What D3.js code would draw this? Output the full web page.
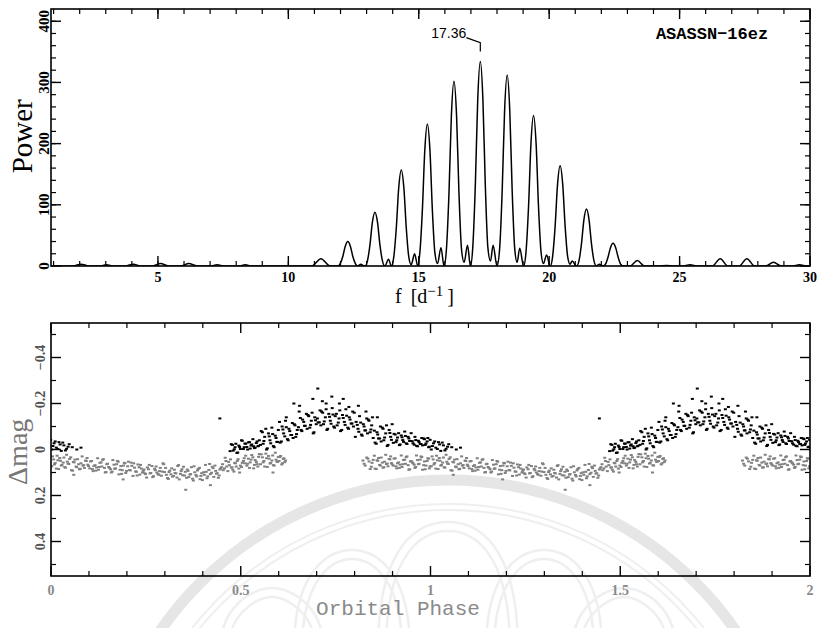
<!DOCTYPE html>
<html>
<head>
<meta charset="utf-8">
<script src="https://cdn.jsdelivr.net/npm/d3@7"></script>
<style>
  html, body { margin: 0; padding: 0; background: #fff; }
  svg { display: block; }
</style>
</head>
<body>
<svg id="chart" width="823" height="628"></svg>
<script>
// ---------------- DATA ----------------
// Periodogram (power spectrum) of ASASSN-16ez
const freq = [
  0.9, 1.75, 2.05, 2.35, 2.75, 3.03, 3.3, 3.75, 4.06, 4.35, 4.8, 5.1, 5.4, 5.9, 6.18, 6.5,
  7.0, 7.27, 7.55, 8.1, 8.35, 8.6, 10.9, 11.25, 11.6,
  11.9, 11.99, 12.09, 12.18, 12.28, 12.38, 12.47, 12.57, 12.66, 12.78, 12.9,
  12.94, 13.03, 13.13, 13.22, 13.32, 13.42, 13.51, 13.61, 13.70, 13.84, 13.95,
  14.04, 14.14, 14.23, 14.33, 14.43, 14.52, 14.62, 14.71, 14.84, 14.96,
  15.04, 15.14, 15.23, 15.33, 15.43, 15.52, 15.62, 15.72, 15.85, 15.97,
  16.06, 16.16, 16.25, 16.35, 16.45, 16.54, 16.64, 16.74, 16.87, 16.98,
  17.07, 17.17, 17.26, 17.36, 17.46, 17.55, 17.65, 17.75, 17.85, 18.0,
  18.10, 18.20, 18.29, 18.39, 18.49, 18.58, 18.68, 18.77, 18.87, 19.02,
  19.11, 19.21, 19.30, 19.40, 19.50, 19.59, 19.69, 19.78, 19.90, 20.04,
  20.13, 20.23, 20.32, 20.42, 20.52, 20.61, 20.71, 20.80, 20.88, 21.05,
  21.14, 21.24, 21.33, 21.43, 21.53, 21.62, 21.72, 21.81, 21.92, 22.07,
  22.16, 22.26, 22.35, 22.45, 22.55, 22.64, 22.74, 22.83,
  23.1, 23.38, 23.65, 24.2, 24.5, 24.8, 25.1, 25.4, 25.7, 26.25, 26.56, 26.85,
  27.28, 27.58, 27.88, 28.3, 28.6, 28.9, 29.3, 29.6, 29.9, 30.0
];
const power = [
  0, 0, 3, 0, 0, 2, 0, 0, 3, 0, 0, 4, 0, 0, 4, 0,
  0, 2, 0, 0, 2, 0, 0, 12, 0,
  0, 4, 16, 32, 40, 32, 16, 4, 0, 3, 0,
  0, 8, 35, 71, 88, 71, 35, 8, 0, 11, 0,
  14, 63, 127, 157, 127, 63, 14, 2, 20, 0,
  21, 93, 188, 232, 188, 93, 21, 4, 30, 0,
  27, 121, 245, 302, 245, 121, 27, 6, 34, 0,
  30, 134, 271, 334, 271, 134, 30, 8, 34, 0,
  28, 125, 253, 312, 253, 125, 28, 6, 29, 0,
  22, 98, 199, 246, 199, 98, 22, 4, 18, 0,
  15, 66, 133, 164, 133, 66, 15, 3, 8, 0,
  8, 37, 75, 93, 75, 37, 8, 0, 3, 0,
  3, 15, 30, 37, 30, 15, 3, 0,
  0, 9, 0, 0, 1, 0, 0, 2, 0, 0, 12, 0,
  0, 12, 0, 0, 6, 0, 0, 2, 0, 0
];
const peakFreq = 17.36;
const peakPower = 334;
const peakLabel = "17.36";
const starName = "ASASSN\u221216ez";

const topXTicks = [5, 10, 15, 20, 25, 30];
const topYTicks = [0, 100, 200, 300, 400];
const botXTicks = [0, 0.5, 1, 1.5, 2];
const botXTickLabels = ["0", "0.5", "1", "1.5", "2"];
const botYTicks = [-0.4, -0.2, 0, 0.2, 0.4];
const botYTickLabels = ["\u22120.4", "\u22120.2", "0", "0.2", "0.4"];

// Folded light curve, phase in [0,1) (shown over two cycles). Gray data set.
const grayPhase = [
  0.002,0.007,0.011,0.016,0.020,0.025,0.029,0.034,0.038,0.043,0.047,
  0.052,0.057,0.061,0.066,0.070,0.075,0.079,0.084,0.088,0.093,0.097,
  0.102,0.107,0.111,0.116,0.120,0.125,0.129,0.134,0.138,0.143,0.147,
  0.152,0.157,0.161,0.166,0.170,0.175,0.179,0.184,0.188,0.193,0.197,
  0.202,0.207,0.211,0.216,0.220,0.225,0.229,0.234,0.238,0.243,0.247,
  0.252,0.257,0.261,0.266,0.270,0.275,0.279,0.284,0.288,0.293,0.297,
  0.302,0.307,0.311,0.316,0.320,0.325,0.329,0.334,0.338,0.343,0.347,
  0.352,0.357,0.361,0.366,0.370,0.375,0.379,0.384,0.388,0.393,0.397,
  0.402,0.407,0.411,0.416,0.420,0.425,0.429,0.434,0.438,0.443,0.447,
  0.452,0.457,0.461,0.466,0.470,0.475,0.479,0.484,0.488,0.493,0.497,
  0.502,0.507,0.511,0.516,0.520,0.525,0.529,0.534,0.538,0.543,0.547,
  0.552,0.557,0.561,0.566,0.570,0.575,0.579,0.584,0.588,0.593,0.597,
  0.603,0.608,0.612,0.616,0.585,
  0.355,0.420,0.190,0.060,
  0.822,0.828,0.835,0.841,0.846,
  0.852,0.857,0.861,0.866,0.870,0.875,0.879,0.884,0.888,0.893,0.897,
  0.902,0.907,0.911,0.916,0.920,0.925,0.929,0.934,0.938,0.943,0.947,
  0.952,0.957,0.961,0.966,0.970,0.975,0.979,0.984,0.988,0.993,0.997,
  // second night
  0.004,0.009,0.014,0.018,0.023,0.027,0.032,0.036,0.041,0.045,0.049,
  0.054,0.059,0.063,0.068,0.073,0.077,0.082,0.086,0.091,0.095,0.099,
  0.104,0.109,0.113,0.118,0.123,0.127,0.132,0.136,0.141,0.145,0.149,
  0.154,0.159,0.163,0.168,0.173,0.177,0.182,0.186,0.191,0.195,0.199,
  0.204,0.209,0.213,0.218,0.223,0.227,0.232,0.236,0.241,0.245,0.249,
  0.254,0.259,0.263,0.268,0.273,0.277,0.282,0.286,0.291,0.295,0.299,
  0.304,0.309,0.313,0.318,0.323,0.327,0.332,0.336,0.341,0.345,0.349,
  0.354,0.359,0.363,0.368,0.373,0.377,0.382,0.386,0.391,0.395,0.399,
  0.404,0.409,0.413,0.418,0.423,0.427,0.432,0.436,0.441,0.445,0.449,
  0.454,0.459,0.463,0.468,0.473,0.477,0.482,0.486,0.491,0.495,0.499,
  0.504,0.509,0.513,0.518,0.523,0.527,0.532,0.536,0.541,0.545,0.549,
  0.554,0.559,0.563,0.568,0.573,0.577,0.582,0.586,0.591,0.595,0.599,
  0.601,0.605,0.610,0.614,0.618,
  0.825,0.832,0.838,0.844,0.849,
  0.854,0.859,0.863,0.868,0.873,0.877,0.882,0.886,0.891,0.895,0.899,
  0.904,0.909,0.913,0.918,0.923,0.927,0.932,0.936,0.941,0.945,0.949,
  0.954,0.959,0.963,0.968,0.973,0.977,0.982,0.986,0.991,0.995,0.999
];
const grayMag = [
  0.073,0.043,0.059,0.027,0.085,0.049,0.067,0.035,0.079,0.053,0.063,
  0.034,0.092,0.056,0.074,0.042,0.086,0.060,0.070,0.080,0.050,0.066,
  0.082,0.050,0.094,0.068,0.078,0.088,0.058,0.074,0.042,0.100,0.064,
  0.076,0.086,0.096,0.066,0.082,0.050,0.108,0.072,0.090,0.058,0.102,
  0.073,0.089,0.057,0.115,0.079,0.097,0.065,0.109,0.083,0.093,0.103,
  0.122,0.086,0.104,0.072,0.116,0.090,0.100,0.110,0.080,0.096,0.064,
  0.080,0.124,0.098,0.108,0.118,0.088,0.104,0.072,0.130,0.094,0.112,
  0.113,0.123,0.093,0.109,0.077,0.135,0.099,0.117,0.085,0.129,0.103,
  0.099,0.067,0.125,0.089,0.107,0.075,0.119,0.093,0.103,0.113,0.083,
  0.064,0.082,0.050,0.094,0.068,0.078,0.088,0.058,0.074,0.042,0.100,
  0.076,0.050,0.060,0.070,0.040,0.056,0.024,0.082,0.046,0.064,0.032,
  0.064,0.034,0.050,0.018,0.076,0.040,0.058,0.026,0.070,0.044,0.054,
  0.033,0.065,0.041,0.055,0.100,
  0.175,0.155,0.130,0.110,
  0.048,0.070,0.040,0.085,0.058,
  0.027,0.085,0.049,0.067,0.035,0.079,0.053,0.063,0.073,0.043,0.059,
  0.070,0.038,0.082,0.056,0.066,0.076,0.046,0.062,0.030,0.088,0.052,
  0.056,0.066,0.076,0.046,0.062,0.030,0.088,0.052,0.070,0.038,0.082,
  // second night
  0.030,0.065,0.083,0.047,0.037,0.070,0.057,0.077,0.023,0.061,0.041,
  0.090,0.054,0.044,0.077,0.064,0.084,0.030,0.068,0.048,0.037,0.072,
  0.052,0.085,0.072,0.092,0.038,0.076,0.056,0.045,0.080,0.098,0.062,
  0.080,0.100,0.046,0.084,0.064,0.053,0.088,0.106,0.070,0.060,0.093,
  0.053,0.091,0.071,0.060,0.095,0.113,0.077,0.067,0.100,0.087,0.107,
  0.078,0.067,0.102,0.120,0.084,0.074,0.107,0.094,0.114,0.060,0.098,
  0.110,0.128,0.092,0.082,0.115,0.102,0.122,0.068,0.106,0.086,0.075,
  0.097,0.087,0.120,0.107,0.127,0.073,0.111,0.091,0.080,0.115,0.133,
  0.110,0.097,0.117,0.063,0.101,0.081,0.070,0.105,0.123,0.087,0.077,
  0.090,0.036,0.074,0.054,0.043,0.078,0.096,0.060,0.050,0.083,0.070,
  0.058,0.038,0.027,0.062,0.080,0.044,0.034,0.067,0.054,0.074,0.020,
  0.021,0.056,0.074,0.038,0.028,0.061,0.048,0.068,0.014,0.052,0.032,
  0.050,0.028,0.060,0.038,0.048,
  0.062,0.035,0.052,0.075,0.045,
  0.083,0.047,0.037,0.070,0.057,0.077,0.023,0.061,0.041,0.030,0.065,
  0.040,0.073,0.060,0.080,0.026,0.064,0.044,0.033,0.068,0.086,0.050,
  0.060,0.080,0.026,0.064,0.044,0.033,0.068,0.086,0.050,0.040,0.073
];

// Black data set (covers the hump)
const blackPhase = [
  0.472,0.478,0.483,0.487,0.492,0.497,
  0.502,0.507,0.511,0.516,0.520,0.525,0.529,0.534,0.538,0.543,0.547,
  0.552,0.557,0.561,0.566,0.570,0.575,0.579,0.584,0.588,0.593,0.597,
  0.602,0.607,0.611,0.616,0.620,0.625,0.629,0.634,0.638,0.643,0.647,
  0.652,0.657,0.661,0.666,0.670,0.675,0.679,0.684,0.688,0.693,0.697,
  0.702,0.707,0.711,0.716,0.720,0.725,0.729,0.734,0.738,0.743,0.747,
  0.752,0.757,0.761,0.766,0.770,0.775,0.779,0.784,0.788,0.793,0.797,
  0.802,0.807,0.811,0.816,0.820,0.825,0.829,0.834,0.838,0.843,0.847,
  0.852,0.857,0.861,0.866,0.870,0.875,0.879,0.884,0.888,0.893,0.897,
  0.902,0.907,0.911,0.916,0.920,0.925,0.929,0.934,0.938,0.943,0.947,
  0.952,0.957,0.961,0.966,0.970,0.975,0.979,0.984,0.988,0.993,0.997,
  1.002,1.008,1.014,1.021,1.027,1.034,1.041,1.048,
  1.056,1.068,1.079,
  0.703,0.640,0.690,0.740,0.770,0.810,0.860,0.445,
  0.655,0.715,0.725,0.760,0.785,0.830,0.620,
  // second night
  0.475,0.480,0.485,0.490,0.495,0.499,
  0.504,0.509,0.513,0.518,0.523,0.527,0.532,0.536,0.541,0.545,0.549,
  0.554,0.559,0.563,0.568,0.573,0.577,0.582,0.586,0.591,0.595,0.599,
  0.604,0.609,0.613,0.618,0.623,0.627,0.632,0.636,0.641,0.645,0.649,
  0.654,0.659,0.663,0.668,0.673,0.677,0.682,0.686,0.691,0.695,0.699,
  0.704,0.709,0.713,0.718,0.723,0.727,0.732,0.736,0.741,0.745,0.749,
  0.754,0.759,0.763,0.768,0.773,0.777,0.782,0.786,0.791,0.795,0.799,
  0.804,0.809,0.813,0.818,0.823,0.827,0.832,0.836,0.841,0.845,0.849,
  0.854,0.859,0.863,0.868,0.873,0.877,0.882,0.886,0.891,0.895,0.899,
  0.904,0.909,0.913,0.918,0.923,0.927,0.932,0.936,0.941,0.945,0.949,
  0.954,0.959,0.963,0.968,0.973,0.977,0.982,0.986,0.991,0.995,0.999,
  1.005,1.011,1.018,1.024,1.031,1.038,1.045
];
const blackMag = [
  0.007,-0.020,-0.001,-0.025,0.013,-0.011,
  -0.040,-0.002,-0.026,-0.011,-0.031,-0.004,-0.022,-0.014,-0.008,-0.035,-0.016,
  -0.020,-0.075,-0.037,-0.090,-0.005,-0.057,-0.027,-0.067,-0.010,-0.050,-0.033,
  -0.120,-0.035,-0.087,-0.057,-0.097,-0.040,-0.080,-0.063,-0.050,-0.105,-0.067,
  -0.097,-0.137,-0.080,-0.120,-0.103,-0.090,-0.145,-0.107,-0.160,-0.075,-0.127,
  -0.135,-0.118,-0.105,-0.160,-0.122,-0.175,-0.090,-0.142,-0.112,-0.152,-0.095,
  -0.155,-0.117,-0.170,-0.085,-0.137,-0.107,-0.147,-0.090,-0.130,-0.113,-0.100,
  -0.055,-0.107,-0.077,-0.117,-0.060,-0.100,-0.083,-0.070,-0.125,-0.087,-0.140,
  -0.082,-0.025,-0.065,-0.048,-0.035,-0.090,-0.052,-0.105,-0.020,-0.072,-0.042,
  -0.029,-0.065,-0.040,-0.071,-0.022,-0.053,-0.033,-0.059,-0.024,-0.048,-0.037,
  -0.036,-0.021,-0.041,-0.014,-0.032,-0.024,-0.018,-0.045,-0.026,-0.050,-0.012,
  0.000,-0.027,-0.008,-0.032,0.006,-0.018,-0.003,-0.023,
  -0.010,0.000,-0.008,
  -0.265,-0.200,-0.220,-0.230,-0.220,-0.190,-0.140,-0.135,
  -0.190,-0.210,-0.200,-0.200,-0.185,-0.165,-0.140,
  // second night
  -0.023,0.005,-0.010,0.015,-0.017,-0.002,
  -0.038,-0.010,-0.025,0.000,-0.032,-0.017,-0.045,-0.006,-0.028,-0.014,-0.040,
  -0.080,-0.025,-0.055,0.000,-0.070,-0.040,-0.095,-0.015,-0.060,-0.033,-0.085,
  -0.030,-0.100,-0.070,-0.125,-0.045,-0.090,-0.063,-0.115,-0.110,-0.055,-0.085,
  -0.165,-0.085,-0.130,-0.103,-0.155,-0.150,-0.095,-0.125,-0.070,-0.140,-0.110,
  -0.118,-0.170,-0.165,-0.110,-0.140,-0.085,-0.155,-0.125,-0.180,-0.100,-0.145,
  -0.105,-0.135,-0.080,-0.150,-0.120,-0.175,-0.095,-0.140,-0.113,-0.165,-0.160,
  -0.120,-0.090,-0.145,-0.065,-0.110,-0.083,-0.135,-0.130,-0.075,-0.105,-0.050,
  -0.030,-0.075,-0.048,-0.100,-0.095,-0.040,-0.070,-0.015,-0.085,-0.055,-0.110,
  -0.068,-0.032,-0.052,-0.019,-0.061,-0.041,-0.078,-0.027,-0.055,-0.037,-0.071,
  -0.027,-0.055,-0.016,-0.038,-0.024,-0.050,-0.048,-0.020,-0.035,-0.010,-0.042,
  -0.015,-0.035,-0.002,-0.022,-0.030,0.004,-0.012
];

// ---------------- LAYOUT ----------------
const svg = d3.select("#chart");
const defs = svg.append("defs");
const topP = {x0: 51, x1: 810, y0: 9, y1: 266};
const botP = {x0: 51, x1: 810, y0: 323, y1: 576};

// faint watermark (background decoration)
const wm = svg.append("g").attr("fill", "none");
wm.append("circle").attr("cx", 448).attr("cy", 830).attr("r", 350)
  .attr("stroke", "#e6e6e6").attr("stroke-width", 11);
wm.append("circle").attr("cx", 448).attr("cy", 830).attr("r", 326)
  .attr("stroke", "#efefef").attr("stroke-width", 2);
wm.append("circle").attr("cx", 448).attr("cy", 830).attr("r", 320)
  .attr("stroke", "#efefef").attr("stroke-width", 2);
const petals = [[448, 522, 70], [352, 550, 58], [544, 550, 58], [272, 588, 52], [624, 588, 52]];
petals.forEach(([cx, ay, w]) => {
  [[0, 0], [8, 9]].forEach(([dw, da]) => {
    const ww = w - dw, a = ay + da;
    wm.append("path")
      .attr("d", `M${cx - ww},650 C${cx - ww},${a + 20} ${cx - ww * 0.4},${a} ${cx},${a} C${cx + ww * 0.4},${a} ${cx + ww},${a + 20} ${cx + ww},650`)
      .attr("stroke", "#efefef").attr("stroke-width", 2.5);
  });
});

// ---------------- TOP PANEL ----------------
const xT = d3.scaleLinear().domain([0.9, 30]).range([topP.x0, topP.x1]);
const yT = d3.scaleLinear().domain([0, 420]).range([topP.y1, topP.y0]);

defs.append("clipPath").attr("id", "clipTop")
  .append("rect").attr("x", topP.x0).attr("y", topP.y0)
  .attr("width", topP.x1 - topP.x0).attr("height", topP.y1 - topP.y0);

const line = d3.line().x((d, i) => xT(freq[i])).y((d, i) => yT(power[i]))
  .curve(d3.curveMonotoneX);
svg.append("path").datum(power).attr("d", line)
  .attr("fill", "none").attr("stroke", "#000").attr("stroke-width", 1.5)
  .attr("clip-path", "url(#clipTop)");

function frameAndTicks(p, xs, ys, xMinor, xMajor, yMinor, yMajor) {
  const g = svg.append("g").attr("stroke", "#000");
  g.append("rect").attr("x", p.x0).attr("y", p.y0)
    .attr("width", p.x1 - p.x0).attr("height", p.y1 - p.y0)
    .attr("fill", "none").attr("stroke-width", 1.6);
  const tk = (vals, L, w) => {
    vals.forEach(v => {
      const X = xs(v);
      g.append("line").attr("x1", X).attr("x2", X).attr("y1", p.y1).attr("y2", p.y1 - L).attr("stroke-width", w);
      g.append("line").attr("x1", X).attr("x2", X).attr("y1", p.y0).attr("y2", p.y0 + L).attr("stroke-width", w);
    });
  };
  const tky = (vals, L, w) => {
    vals.forEach(v => {
      const Y = ys(v);
      g.append("line").attr("x1", p.x0).attr("x2", p.x0 + L).attr("y1", Y).attr("y2", Y).attr("stroke-width", w);
      g.append("line").attr("x1", p.x1).attr("x2", p.x1 - L).attr("y1", Y).attr("y2", Y).attr("stroke-width", w);
    });
  };
  tk(xMinor, 5, 1.2); tk(xMajor, 10, 1.4);
  tky(yMinor, 5, 1.2); tky(yMajor, 10, 1.4);
}

frameAndTicks(topP, xT, yT,
  d3.range(1, 30, 1), topXTicks,
  d3.range(20, 420, 20), topYTicks);

const tickFont = "'Liberation Serif', 'DejaVu Serif', serif";
svg.append("g").selectAll("text").data(topXTicks).join("text")
  .attr("x", d => xT(d)).attr("y", 282)
  .attr("text-anchor", "middle").attr("font-family", tickFont)
  .attr("font-size", 14).attr("font-weight", "bold").text(d => d);

svg.append("g").selectAll("text").data(topYTicks).join("text")
  .attr("transform", d => `translate(49,${yT(d)}) rotate(-90)`)
  .attr("text-anchor", "middle").attr("font-family", tickFont)
  .attr("font-size", 15).attr("font-weight", "bold").text(d => d);

svg.append("text").attr("transform", `translate(32,${yT(212)}) rotate(-90)`)
  .attr("text-anchor", "middle").attr("font-family", "'Liberation Serif', serif")
  .attr("font-size", 29).text("Power");

const fl = svg.append("text").attr("x", 395).attr("y", 303)
  .attr("font-family", "'Liberation Serif', serif").attr("font-size", 20);
fl.append("tspan").text("f");
fl.append("tspan").attr("dx", 9).text("[d");
fl.append("tspan").attr("dy", -7).attr("font-size", 15).text("\u22121");
fl.append("tspan").attr("dy", 7).attr("dx", 4).text("]");

// peak annotation
const px = xT(peakFreq), py = yT(peakPower);
svg.append("path")
  .attr("d", d3.line()([[px - 14, py - 24], [px, py - 19], [px, py - 10]]))
  .attr("fill", "none").attr("stroke", "#000").attr("stroke-width", 1.2);
svg.append("text").attr("x", px - 14).attr("y", py - 24)
  .attr("text-anchor", "end").attr("font-family", "'Liberation Sans', Arial, sans-serif")
  .attr("font-size", 14).text(peakLabel);

svg.append("text").attr("x", 712).attr("y", 39)
  .attr("text-anchor", "middle").attr("font-family", "'Liberation Mono', 'DejaVu Sans Mono', monospace")
  .attr("font-weight", "bold").attr("font-size", 17).text(starName);

// ---------------- BOTTOM PANEL ----------------
const xB = d3.scaleLinear().domain([0, 2]).range([botP.x0, botP.x1]);
const yB = d3.scaleLinear().domain([-0.55, 0.55]).range([botP.y0, botP.y1]);

defs.append("clipPath").attr("id", "clipBot")
  .append("rect").attr("x", botP.x0).attr("y", botP.y0)
  .attr("width", botP.x1 - botP.x0).attr("height", botP.y1 - botP.y0);

function plotSet(ph, mg, color) {
  const pts = [];
  ph.forEach((p, i) => { [-1, 0, 1].forEach(k => pts.push([p + k, mg[i]])); });
  svg.append("g").attr("clip-path", "url(#clipBot)")
    .selectAll("rect").data(pts).join("rect")
    .attr("x", d => xB(d[0]) - 1.5).attr("y", d => yB(d[1]) - 1)
    .attr("width", 3).attr("height", 2).attr("fill", color);
}
plotSet(grayPhase, grayMag, "#808080");
plotSet(blackPhase, blackMag, "#000");

frameAndTicks(botP, xB, yB,
  d3.range(0.1, 2.0, 0.1).filter(v => Math.abs(v * 2 - Math.round(v * 2)) > 1e-6), botXTicks,
  [-0.5, -0.3, -0.1, 0.1, 0.3, 0.5], botYTicks);

svg.append("g").selectAll("text").data(botXTicks).join("text")
  .attr("x", d => xB(d)).attr("y", 595)
  .attr("text-anchor", "middle").attr("font-family", tickFont)
  .attr("font-size", 14).attr("font-weight", "bold").attr("fill", "#8a8a8a")
  .text((d, i) => botXTickLabels[i]);

svg.append("g").selectAll("text").data(botYTicks).join("text")
  .attr("transform", d => `translate(45,${yB(d)}) rotate(-90)`)
  .attr("text-anchor", "middle").attr("font-family", tickFont)
  .attr("font-size", 14).attr("font-weight", "bold").attr("fill", "#555")
  .text((d, i) => botYTickLabels[i]);

svg.append("text").attr("transform", `translate(27,${yB(0.01)}) rotate(-90)`)
  .attr("text-anchor", "middle").attr("font-family", "'Liberation Serif', serif")
  .attr("font-size", 28).attr("fill", "#777").text("\u0394mag");

svg.append("text").attr("x", 398).attr("y", 615)
  .attr("text-anchor", "middle").attr("font-family", "'Liberation Mono', 'DejaVu Sans Mono', monospace")
  .attr("font-size", 21).attr("fill", "#8a8a8a").text("Orbital Phase");
</script>
</body>
</html>
